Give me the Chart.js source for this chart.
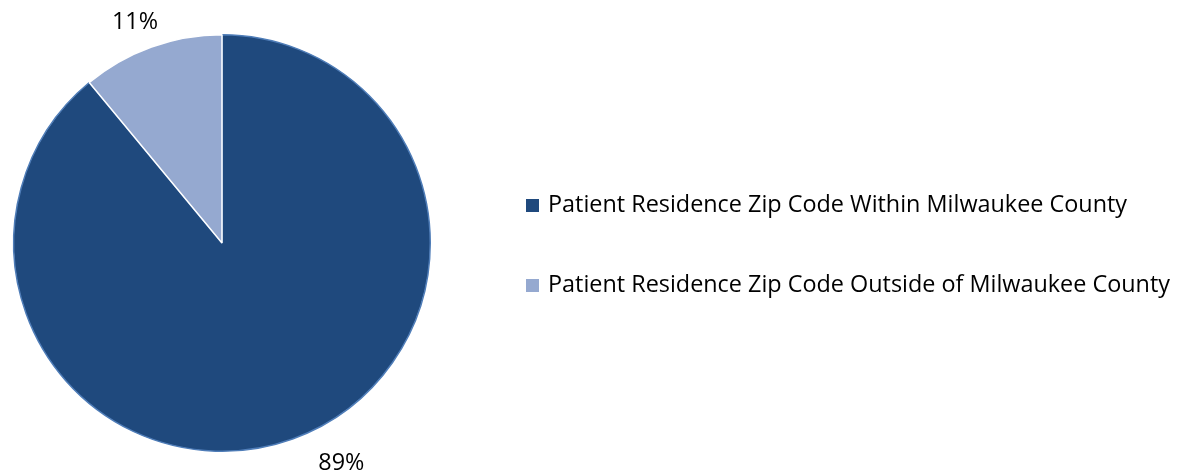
<!DOCTYPE html>
<html>
<head>
<meta charset="utf-8">
<script src="https://cdn.jsdelivr.net/npm/chart.js@4.4.0/dist/chart.umd.min.js"></script>
<style>
  html, body { margin: 0; padding: 0; background: #fff; }
  #wrap { width: 1186px; height: 475px; position: relative; }
</style>
</head>
<body>
<div id="wrap"><canvas id="myChart" width="1186" height="475"></canvas></div>
<script>
const categories = [
  'Patient Residence Zip Code Within Milwaukee County',
  'Patient Residence Zip Code Outside of Milwaukee County'
];
const shares = [89, 11];
const pctLabels = ['89%', '11%'];
const sliceColors = ['#1F497D', '#95A9D0'];
const edgeColors = ['#4F7DB8', '#ffffff'];

const FONT = '"Open Sans", "Liberation Sans", sans-serif';

// data labels outside each slice + legend on the right
const pieExtras = {
  id: 'pieExtras',
  afterDraw(chart) {
    const ctx = chart.ctx;
    const meta = chart.getDatasetMeta(0);
    ctx.save();
    ctx.font = '23.4px ' + FONT;
    ctx.fillStyle = '#000';
    ctx.textBaseline = 'middle';
    ctx.textAlign = 'center';
    meta.data.forEach((arc, i) => {
      const mid = (arc.startAngle + arc.endAngle) / 2;
      const r = arc.outerRadius + 8;
      const ax = arc.x + Math.cos(mid) * r;
      const ay = arc.y + Math.sin(mid) * r;
      const w = ctx.measureText(pctLabels[i]).width;
      const h = 24;
      const cx = ax + Math.sign(Math.cos(mid)) * w * 0.65 + w * 0.35;
      const cy = ay + Math.sign(Math.sin(mid)) * h * 0.7;
      ctx.fillText(pctLabels[i], cx, cy);
    });

    // legend
    ctx.textAlign = 'left';
    const lx = 526;
    const ly0 = 205;
    categories.forEach((name, i) => {
      const y = ly0 + i * 80;
      ctx.fillStyle = sliceColors[i];
      ctx.fillRect(lx, y - 6, 13, 13);
      ctx.fillStyle = '#000';
      ctx.fillText(name, lx + 22, y);
    });
    ctx.restore();
  }
};

const ctx = document.getElementById('myChart').getContext('2d');
new Chart(ctx, {
  type: 'pie',
  data: {
    labels: categories,
    datasets: [
      {
        data: shares,
        backgroundColor: sliceColors,
        borderColor: edgeColors,
        borderWidth: 1.5
      }
    ]
  },
  options: {
    responsive: false,
    animation: false,
    layout: { padding: { left: 13, top: 34, right: 755, bottom: 23 } },
    plugins: {
      legend: { display: false },
      tooltip: { enabled: false }
    }
  },
  plugins: [pieExtras]
});
</script>
</body>
</html>
